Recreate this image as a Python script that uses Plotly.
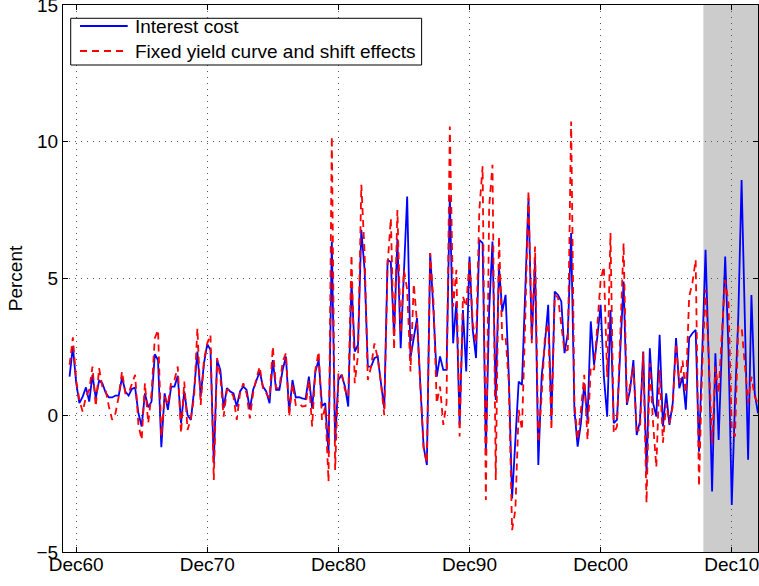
import plotly.graph_objects as go

# Quarterly observations, first one June 1960
start_year = 1960
start_month = 6

interest_cost = [
    1.41, 2.51, 1.2, 0.44, 0.68, 1.02, 0.5, 1.48, 0.62, 1.27,
    1.17, 0.83, 0.65, 0.65, 0.72, 0.72, 1.38, 0.87, 0.72, 0.96,
    1.01, 0.07, -0.41, 0.8, 0.29, 0.5, 2.23, 2.02, -1.17, 0.8,
    0.2, 1.05, 1.05, 1.44, -0.29, 0.87, 0.0, -0.17, 0.93, 2.33,
    0.68, 1.9, 2.6, 2.39, -1.76, 2.02, 1.66, 0.26, 0.99, 0.87,
    0.8, 0.32, 0.87, 1.05, 0.93, 0.22, 0.93, 1.29, 1.6, 1.05,
    0.87, 0.44, 2.02, 0.93, 0.93, 1.66, 2.15, 0.13, 1.29, 0.65,
    0.66, 0.62, 0.59, 1.41, 0.26, 1.6, 2.02, 0.34, 0.44, -1.39,
    6.35, -0.96, 1.29, 1.48, 1.05, 0.32, 4.89, 2.33, 2.57, 6.78,
    5.32, 1.78, 1.78, 2.09, 2.15, 1.17, 0.26, 5.68, 5.6, 2.9,
    6.45, 2.45, 5.2, 8.0, 2.1, 2.8, 3.55, 1.17, -1.15, -1.82,
    5.93, 3.85, 1.41, 2.15, 1.66, 1.66, 8.0, 2.63, 4.16, -0.35,
    3.85, 1.6, 5.8, 3.12, 2.09, 6.41, 6.29, -1.33, 3.85, 6.35,
    0.56, 5.44, 3.79, 4.4, 1.41, -3.04, -1.02, 1.23, 1.11, 4.34,
    7.94, 2.76, 5.68, -1.82, 1.41, 2.63, 4.04, -0.17, 4.52, 4.4,
    4.16, 2.27, 3.0, 6.66, 0.2, -1.15, -0.29, 1.17, -0.17, 3.43,
    1.84, 2.88, 4.04, 1.41, -0.05, 3.85, -0.29, -0.17, 2.63, 4.89,
    0.38, 0.93, 2.02, -0.72, -0.23, 2.33, -2.12, 2.45, 0.44, -0.05,
    2.94, -0.41, 0.8, -0.35, 0.44, 2.82, 0.99, 1.41, 0.2, 2.82,
    3.0, 3.12, -1.33, 2.3, 6.05, 2.0, -2.79, 2.27, -0.9, 2.5,
    5.8, 2.39, -3.28, 0.5, 3.6, 8.6, 3.0, -1.63, 4.4, 0.8,
    0.07,
]

yield_curve_shift = [
    1.84, 2.85, 1.29, 0.56, 0.13, 0.68, 0.93, 1.78, 0.32, 1.72,
    1.05, 0.93, 0.32, -0.17, 0.07, 0.68, 1.6, 0.8, 0.8, 1.17,
    1.48, -0.35, -0.9, 1.17, -0.29, 0.8, 2.82, 3.12, -0.78, 0.68,
    0.38, 1.23, 1.29, 1.78, -0.66, 1.23, -0.54, -0.11, 0.68, 3.18,
    0.38, 2.02, 2.63, 2.94, -2.37, 2.09, 1.41, -0.05, 0.93, 0.93,
    0.68, -0.17, 0.8, 1.17, 0.8, -0.11, 0.8, 1.35, 1.78, 0.99,
    0.8, 0.62, 2.51, 0.99, 0.99, 1.96, 2.27, -0.05, 1.17, 0.38,
    0.44, 0.32, 0.34, 1.29, -0.41, 1.66, 2.33, -0.17, 0.32, -2.43,
    10.2, -2.0, 1.54, 1.54, 0.93, 0.68, 5.87, 1.17, 2.2, 8.43,
    5.93, 1.29, 1.78, 2.63, 2.09, 1.17, 0.0, 5.5, 7.2, 2.4,
    7.5, 3.0, 5.3, 4.6, 1.6, 4.8, 3.37, 1.05, -1.2, -1.75,
    5.93, 4.2, 0.44, 1.05, -0.35, 0.44, 10.56, 3.97, 5.32, -0.78,
    4.34, 3.97, 5.68, 3.37, 2.63, 7.5, 9.1, -3.1, 7.63, 9.16,
    -2.37, 6.54, 2.76, 2.88, 1.17, -4.2, -3.46, 0.2, -0.54, 3.37,
    8.2, 2.63, 6.17, -1.0, 0.68, 2.88, 3.37, -0.54, 4.4, 4.3,
    3.24, 2.33, 2.4, 10.74, 0.44, -0.9, 0.2, 1.48, -0.9, 1.78,
    1.66, 3.49, 4.95, 5.44, 1.4, 6.66, -0.66, -0.41, 2.76, 6.29,
    0.44, 1.17, 1.78, -0.54, -0.54, 2.3, -3.2, 1.9, -0.3, -1.9,
    1.66, -1.0, 0.44, -0.29, 0.32, 2.63, 1.17, 2.0, 0.8, 4.34,
    4.83, 5.68, -2.6, 1.8, 4.6, 2.1, -1.02, 1.78, 0.8, 3.0,
    4.95, 4.1, -0.5, -0.78, 3.24, 3.24, 1.8, 0.44, 1.41, 0.68,
    0.44,
]

series_names = ["Interest cost", "Fixed yield curve and shift effects"]
tick_dates = ["1960-12-01", "1970-12-01", "1980-12-01", "1990-12-01",
              "2000-12-01", "2010-12-01"]
tick_labels = ["Dec60", "Dec70", "Dec80", "Dec90", "Dec00", "Dec10"]
y_ticks = [-5, 0, 5, 10, 15]
shade_start = "2008-10-01"
x_range = ["1959-12-01", "2012-12-01"]
y_range = [-5, 15]

dates = []
for i in range(len(interest_cost)):
    m = start_month - 1 + 3 * i
    dates.append(f"{start_year + m // 12}-{m % 12 + 1:02d}-01")

FONT = "Liberation Sans, Arial, Helvetica, sans-serif"
FS = 19
BLUE = "#0000ff"
RED = "#ff0000"
RED_DASH = "7px,5px"

fig = go.Figure()
fig.add_trace(go.Scatter(
    x=dates, y=interest_cost, mode="lines", name=series_names[0],
    line=dict(color=BLUE, width=1.8), showlegend=False,
))
fig.add_trace(go.Scatter(
    x=dates, y=yield_curve_shift, mode="lines", name=series_names[1],
    line=dict(color=RED, width=1.8, dash=RED_DASH), showlegend=False,
))

# shaded period
fig.add_shape(type="rect", xref="x", yref="paper",
              x0=shade_start, x1=x_range[1], y0=0, y1=1,
              fillcolor="#cccccc", line=dict(width=0), layer="below")

# legend box (MATLAB style)
fig.add_shape(type="rect", xref="paper", yref="paper",
              x0=0.0111, x1=0.516, y0=0.8903, y1=0.9757,
              fillcolor="white", line=dict(color="black", width=1), layer="above")
legend_rows = [(0.9616, BLUE, "solid"), (0.9159, RED, RED_DASH)]
for (yy, col, dash), name in zip(legend_rows, series_names):
    fig.add_shape(type="line", xref="paper", yref="paper",
                  x0=0.0245, x1=0.0931, y0=yy, y1=yy,
                  line=dict(color=col, width=1.8, dash=dash), layer="above")
    fig.add_annotation(xref="paper", yref="paper", x=0.1007, y=yy,
                       xanchor="left", yanchor="middle", showarrow=False,
                       text=name, font=dict(family=FONT, size=FS, color="black"))

axis_common = dict(
    showline=True, linecolor="black", linewidth=1, mirror="ticks",
    ticks="inside", ticklen=5, tickcolor="black", tickwidth=1,
    showgrid=True, gridcolor="#555555", griddash="1px,5px", gridwidth=1,
    zeroline=False, tickfont=dict(family=FONT, size=FS, color="black"),
    ticklabeloverflow="allow", automargin=False,
)

fig.update_xaxes(type="date", range=x_range, tickvals=tick_dates,
                 ticktext=tick_labels, ticklabelstandoff=-5, **axis_common)
fig.update_yaxes(range=y_range, tickvals=y_ticks,
                 title=dict(text="Percent", font=dict(family=FONT, size=FS, color="black"),
                            standoff=8),
                 **axis_common)

fig.update_layout(
    width=759, height=586,
    margin=dict(l=63, r=1, t=5, b=34, autoexpand=False),
    plot_bgcolor="white", paper_bgcolor="white",
    font=dict(family=FONT, size=FS, color="black"),
    showlegend=False,
)

fig.write_html("out.html")
